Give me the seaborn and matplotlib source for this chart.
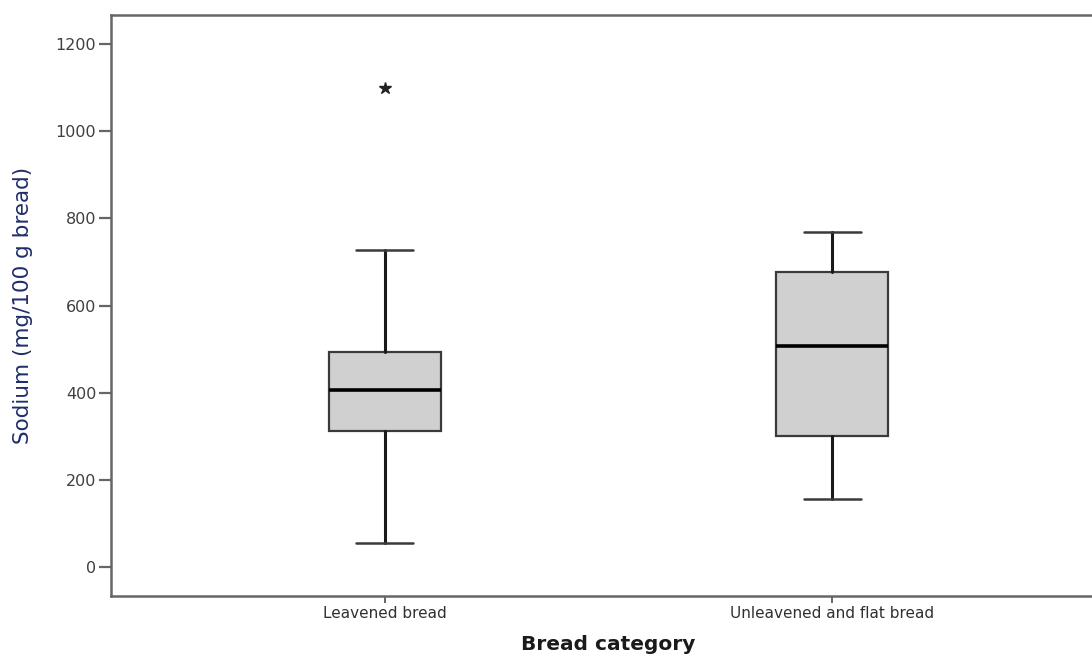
import matplotlib
matplotlib.use("Agg")
import matplotlib.pyplot as plt
import seaborn as sns

# Sodium content summary per bread category (mg/100 g bread)
categories = ["Leavened bread", "Unleavened and flat bread"]
whisker_low = [55, 156]
q1 = [312, 301]
median = [406, 507]
q3 = [493, 677]
whisker_high = [727, 769]
extremes = [[1099], []]

y_ticks = [0, 200, 400, 600, 800, 1000, 1200]

sns.set_theme(style="white")
plt.rcParams["font.family"] = ["DejaVu Sans"]

fig = plt.figure(figsize=(10.92, 6.56), dpi=100)
ax = fig.add_axes([111 / 1092, 60 / 656, 995 / 1092, 581 / 656])

stats = []
for i, name in enumerate(categories):
    stats.append(dict(label=name, whislo=whisker_low[i], q1=q1[i], med=median[i],
                      q3=q3[i], whishi=whisker_high[i], fliers=extremes[i]))

ax.bxp(
    stats,
    positions=range(len(categories)),
    widths=0.25,
    capwidths=0.128,
    patch_artist=True,
    manage_ticks=False,
    boxprops=dict(facecolor="#d0d0d0", edgecolor="#3a3a3a", linewidth=1.6),
    medianprops=dict(color="black", linewidth=2.6),
    whiskerprops=dict(color="#1a1a1a", linewidth=2.2),
    capprops=dict(color="#3a3a3a", linewidth=1.8),
    flierprops=dict(marker="*", markersize=9, markerfacecolor="#222222",
                    markeredgecolor="#222222", linestyle="none"),
)

ax.set_xlim(-0.611, 1.611)
ax.set_ylim(-66.5, 1266.5)
ax.set_yticks(y_ticks)
ax.set_xticks(range(len(categories)))
ax.set_xticklabels(categories)

sns.despine(ax=ax, top=False, right=True)
for side in ("left", "top", "bottom"):
    ax.spines[side].set_color("#666666")
    ax.spines[side].set_linewidth(1.8)

ax.tick_params(axis="y", which="major", left=True, length=8.6, width=1.6,
               color="#666666", pad=2, labelsize=11.5, labelcolor="#404040")
ax.tick_params(axis="x", which="major", bottom=True, length=5, width=1.4,
               color="#666666", pad=2, labelsize=11, labelcolor="#303030")

ax.set_ylabel("Sodium (mg/100 g bread)", fontsize=15.5, color="#1f2d6b", va="center")
ax.yaxis.set_label_coords(-0.0884, 0.5)
ax.set_xlabel("Bread category", fontsize=14.5, fontweight="bold", color="#1a1a1a", va="center")
ax.xaxis.set_label_coords(0.5, -0.0843)

fig.savefig("out.png", dpi=100)
